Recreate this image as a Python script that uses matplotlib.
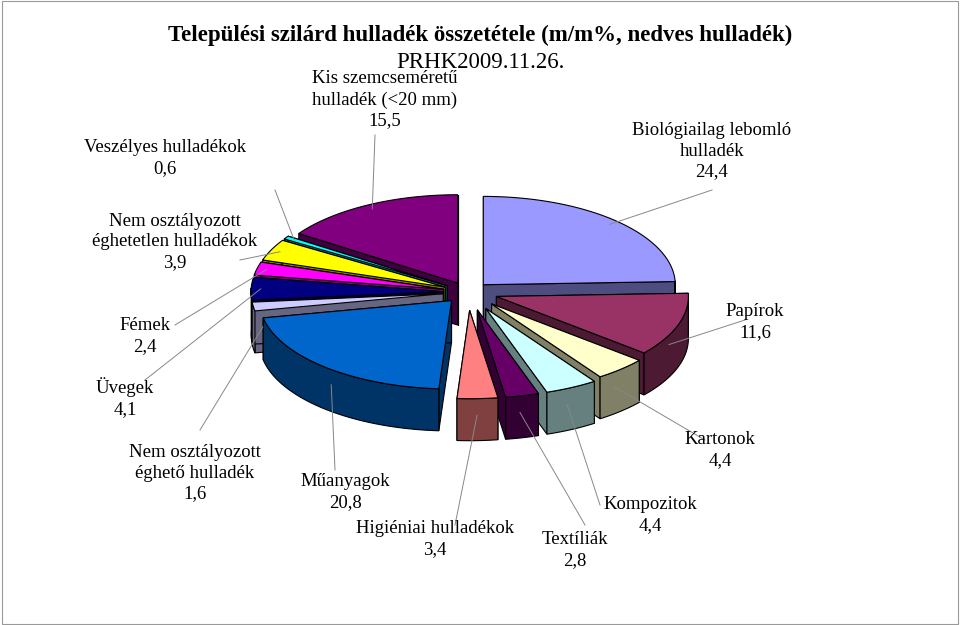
import numpy as np
import matplotlib
matplotlib.use("Agg")
import matplotlib.pyplot as plt
from matplotlib.colors import to_rgb

categories = ["Biológiailag lebomló\nhulladék", "Papírok", "Kartonok", "Kompozitok", "Textíliák",
              "Higiéniai hulladékok", "Műanyagok", "Nem osztályozott\néghető hulladék", "Üvegek",
              "Fémek", "Nem osztályozott\néghetetlen hulladékok", "Veszélyes hulladékok",
              "Kis szemcseméretű\nhulladék (<20 mm)"]
values = [24.4, 11.6, 4.4, 4.4, 2.8, 3.4, 20.8, 1.6, 4.1, 2.4, 3.9, 0.6, 15.5]
value_labels = ["24,4", "11,6", "4,4", "4,4", "2,8", "3,4", "20,8", "1,6", "4,1", "2,4", "3,9", "0,6", "15,5"]
colors = ["#9999FF", "#993366", "#FFFFCC", "#CCFFFF", "#660066", "#FF8080", "#0066CC",
          "#CCCCFF", "#000080", "#FF00FF", "#FFFF00", "#00FFFF", "#800080"]
explode = [22, 30, 35, 40, 40, 40, 25, 25, 25, 25, 25, 25, 22]
label_pos = [(712, 151), (755, 322), (720, 450), (650, 515), (575, 550), (435, 539), (345, 492),
             (195, 473), (125, 398), (145, 336), (175, 242), (165, 158), (385, 100)]
line_start = [(712, 190), (745, 320), (705, 440), (600, 505), (585, 525), (455, 525), (335, 470),
              (200, 430), (145, 380), (175, 325), (240, 260), (275, 190), (375, 135)]

cx, cy, R, k, D = 468, 292, 192, 0.46, 42

fig = plt.figure(figsize=(9.6, 6.25), dpi=100)
ax = fig.add_axes([0, 0, 1, 1])
ax.set_xlim(0, 960)
ax.set_ylim(625, 0)
ax.axis("off")
fig.patches.append(plt.Rectangle((0.002, 0.002), 0.996, 0.996, transform=fig.transFigure,
                                 fill=False, edgecolor="#999999", lw=0.8))

total = sum(values)
start = 90.0
wedges = []
for i, v in enumerate(values):
    a0 = start
    a1 = start - v / total * 360
    start = a1
    mid = np.radians((a0 + a1) / 2)
    ox = cx + explode[i] * np.cos(mid)
    oy = cy - explode[i] * k * np.sin(mid)
    t = np.radians(np.linspace(a0, a1, max(3, int(abs(a1 - a0) * 2))))
    ex = ox + R * np.cos(t)
    ey = oy - R * k * np.sin(t)
    wedges.append(dict(i=i, ox=ox, oy=oy, t=t, ex=ex, ey=ey, mid=mid))

def dark(c, f=0.5):
    return tuple(np.array(to_rgb(c)) * f)

for w in sorted(wedges, key=lambda w: np.mean(np.r_[w["ey"], w["oy"]])):
    c = colors[w["i"]]
    sc = dark(c)
    ox, oy, ex, ey, t = w["ox"], w["oy"], w["ex"], w["ey"], w["t"]
    for j in (0, -1):
        ax.fill([ox, ex[j], ex[j], ox], [oy, ey[j], ey[j] + D, oy + D], color=sc, ec="black", lw=0.8)
    front = np.sin(t) < 0.05
    if front.any():
        fx, fy = ex[front], ey[front]
        ax.fill(np.r_[fx, fx[::-1]], np.r_[fy, fy[::-1] + D], color=sc, ec="black", lw=0.8)
    ax.fill(np.r_[ox, ex], np.r_[oy, ey], color=c, ec="black", lw=0.8)

font = "Liberation Serif"
for w in wedges:
    i = w["i"]
    m = w["mid"]
    axp = w["ox"] + R * 0.95 * np.cos(m)
    ayp = w["oy"] - R * 0.95 * k * np.sin(m) + (D * 0.5 if np.sin(m) < 0 else 0)
    ax.plot([line_start[i][0], axp], [line_start[i][1], ayp], color="#888888", lw=0.7)
    ax.text(label_pos[i][0], label_pos[i][1], categories[i] + "\n" + value_labels[i],
            ha="center", va="center", fontsize=13.5, family=font, linespacing=1.3)

ax.text(480, 35, "Települési szilárd hulladék összetétele (m/m%, nedves hulladék)",
        ha="center", va="center", fontsize=16.5, fontweight="bold", family=font)
ax.text(480, 63, "PRHK2009.11.26.", ha="center", va="center", fontsize=16.5, family=font)

fig.savefig("out.png", dpi=100)
